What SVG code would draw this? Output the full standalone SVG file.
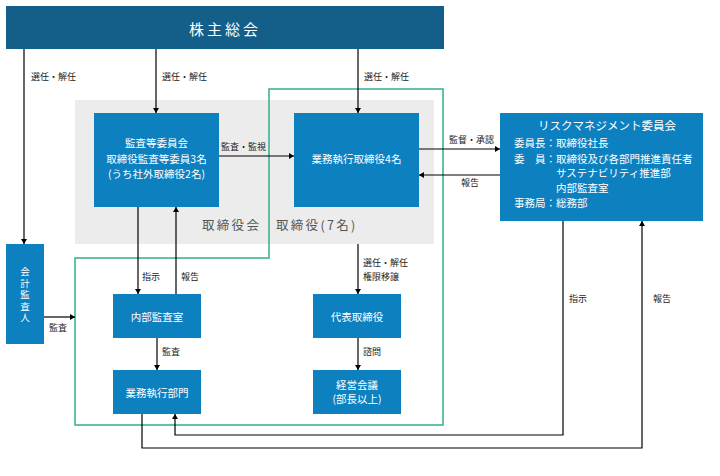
<svg xmlns="http://www.w3.org/2000/svg" width="720" height="476" viewBox="0 0 720 476">
<defs>
<marker id="ah" viewBox="0 0 5 6" markerWidth="5" markerHeight="6" refX="5" refY="3" orient="auto" markerUnits="userSpaceOnUse">
<path d="M0,0 L5,3 L0,6 z" fill="#000"/>
</marker>
<style>
text{font-family:"Noto Sans CJK JP","Noto Sans",sans-serif;}
.box{fill:#0d80c0;}
.bt{fill:#fff;font-size:10.5px;text-anchor:middle;}
.rt{fill:#fff;font-size:10.5px;}
.lb{fill:#222;font-size:9px;}
.ln{fill:none;stroke:#000;stroke-width:1.2;}
.ar{marker-end:url(#ah);}
</style>
</defs>
<rect width="720" height="476" fill="#fff"/>
<g id="board-area">
<rect x="75" y="100" width="359" height="144" fill="#ececec"/>
<text x="202" y="230" fill="#555" font-size="12.5" letter-spacing="2.3">取締役会　取締役(7名)</text>
</g>
<g id="directors-frame">
<path d="M269,89 H443 V425 H75 V258 H269 Z" fill="none" stroke="#32b08b" stroke-width="1.5"/>
</g>
<g id="shareholders">
<rect x="6" y="6" width="438" height="43" fill="#135f8a"/>
<text x="225" y="34.5" fill="#fff" font-size="15" text-anchor="middle" letter-spacing="3">株主総会</text>
</g>
<g id="audit-committee">
<rect class="box" x="94" y="113" width="125" height="94"/>
<text class="bt" x="156.5" y="147">監査等委員会</text>
<text class="bt" x="156.5" y="163">取締役監査等委員3名</text>
<text class="bt" x="156.5" y="178">(うち社外取締役2名)</text>
</g>
<g id="exec-directors">
<rect class="box" x="294" y="113" width="125" height="94"/>
<text class="bt" x="356.5" y="163">業務執行取締役4名</text>
</g>
<g id="risk-committee">
<rect class="box" x="500" y="113" width="203" height="108"/>
<text x="607" y="129.5" fill="#fff" font-size="11.5" text-anchor="middle">リスクマネジメント委員会</text>
<text class="rt" x="514" y="147">委員長：取締役社長</text>
<text class="rt" x="514" y="162.5">委　員：取締役及び各部門推進責任者</text>
<text class="rt" x="556" y="176.5">サステナビリティ推進部</text>
<text class="rt" x="556" y="192">内部監査室</text>
<text class="rt" x="514" y="207">事務局：総務部</text>
</g>
<g id="accounting-auditor">
<rect class="box" x="6" y="244" width="38" height="100"/>
<text x="25" y="295.5" fill="#fff" font-size="9.5" writing-mode="vertical-rl" text-anchor="middle" letter-spacing="2">会計監査人</text>
</g>
<g id="internal-audit">
<rect class="box" x="113" y="294" width="88" height="44"/>
<text class="bt" x="157" y="320.5">内部監査室</text>
</g>
<g id="business-dept">
<rect class="box" x="113" y="370" width="88" height="44"/>
<text class="bt" x="157" y="396.5">業務執行部門</text>
</g>
<g id="representative">
<rect class="box" x="313" y="294" width="88" height="44"/>
<text class="bt" x="357" y="320.5">代表取締役</text>
</g>
<g id="management-meeting">
<rect class="box" x="313" y="370" width="88" height="44"/>
<text class="bt" x="357" y="389">経営会議</text>
<text class="bt" x="357" y="403">(部長以上)</text>
</g>
<g id="connectors">
<path class="ln ar" d="M24,49 V244"/>
<path class="ln ar" d="M156,49 V113"/>
<path class="ln ar" d="M358,49 V113"/>
<path class="ln ar" d="M219,156 H294"/>
<path class="ln ar" d="M419,149 H500"/>
<path class="ln ar" d="M500,175 H419"/>
<path class="ln ar" d="M138,207 V294"/>
<path class="ln ar" d="M176,294 V207"/>
<path class="ln ar" d="M44,317 H75"/>
<path class="ln ar" d="M157,338 V370"/>
<path class="ln ar" d="M358,244 V294"/>
<path class="ln ar" d="M358,338 V370"/>
<path class="ln ar" d="M563,221 V435 H175 V414"/>
<path class="ln ar" d="M142,414 V448 H642 V221"/>
<text class="lb" x="31" y="79.5">選任・解任</text>
<text class="lb" x="162" y="79.5">選任・解任</text>
<text class="lb" x="364" y="79.5">選任・解任</text>
<text class="lb" x="221" y="150">監査・監視</text>
<text class="lb" x="449" y="142.5">監督・承認</text>
<text class="lb" x="461" y="186">報告</text>
<text class="lb" x="142" y="280">指示</text>
<text class="lb" x="181" y="280">報告</text>
<text class="lb" x="49" y="331">監査</text>
<text class="lb" x="162" y="355">監査</text>
<text class="lb" x="363" y="265.5">選任・解任</text>
<text class="lb" x="363" y="280">権限移譲</text>
<text class="lb" x="363" y="355">諮問</text>
<text class="lb" x="569" y="301.5">指示</text>
<text class="lb" x="653" y="302">報告</text>
</g>
</svg>
